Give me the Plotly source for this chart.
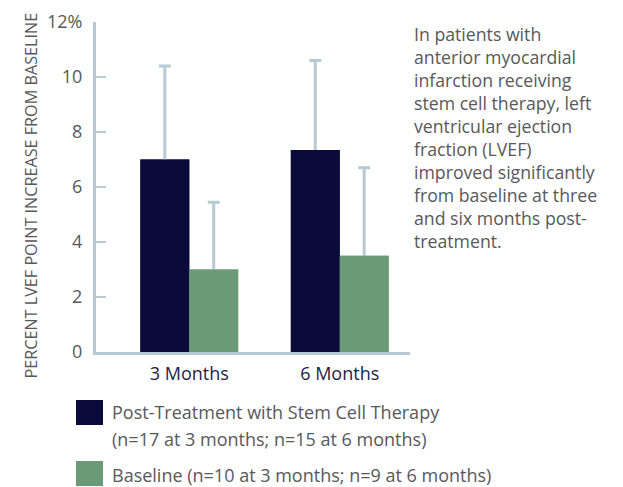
import plotly.graph_objects as go

categories = ["3 Months", "6 Months"]
post_values = [7.0, 7.35]
post_errors = [3.4, 3.25]
base_values = [3.0, 3.5]
base_errors = [2.45, 3.2]
y_tickvals = [0, 2, 4, 6, 8, 10, 12]
y_ticktext = ["0", "2", "4", "6", "8", "10", "12%"]
y_title = "PERCENT LVEF POINT INCREASE FROM BASELINE"
note_lines = [
    "In patients with",
    "anterior myocardial",
    "infarction receiving",
    "stem cell therapy, left",
    "ventricular ejection",
    "fraction (LVEF)",
    "improved significantly",
    "from baseline at three",
    "and six months post-",
    "treatment.",
]
legend_labels = [
    ["Post-Treatment with Stem Cell Therapy", "(n=17 at 3 months; n=15 at 6 months)"],
    ["Baseline (n=10 at 3 months; n=9 at 6 months)"],
]

DARK = "#0b0b3b"
GREEN = "#6a9a77"
AXIS = "#b7c9d1"
GRAY = "#58585a"
FONT = "Open Sans"

OFF = 8  # page body margin
W, H = 623 - OFF, 487 - OFF
# plot area in screen pixels: x 96..410, y 22..352
SL, SR, ST, SB = 96, 410, 22, 352
L, T = SL - OFF, ST - OFF
R, B = W - (SR - OFF), H - (SB - OFF)
PW, PH = SR - SL, SB - ST


def px(x):
    return (x - SL) / PW


def py(y):
    return (SB - y) / PH


BW = 0.325
fig = go.Figure()
# bars carrying error bars (lower part hidden under cover bars)
for vals, errs, color, off in [(post_values, post_errors, DARK, -BW), (base_values, base_errors, GREEN, 0)]:
    fig.add_trace(go.Bar(
        x=categories, y=vals, width=BW, offset=off, marker_color=color, marker_line_width=0,
        error_y=dict(type="data", symmetric=False, array=errs, arrayminus=[0.5] * len(vals),
                     color=AXIS, thickness=3, width=6),
        showlegend=False, hoverinfo="skip"))
for vals, color, off in [(post_values, DARK, -BW), (base_values, GREEN, 0)]:
    fig.add_trace(go.Bar(
        x=categories, y=vals, width=BW, offset=off, marker_color=color, marker_line_width=0,
        showlegend=False))

fig.update_layout(
    width=W, height=H, autosize=False,
    margin=dict(l=L, r=R, t=T, b=B, pad=0, autoexpand=False),
    barmode="overlay",
    plot_bgcolor="white", paper_bgcolor="white",
    font=dict(family=FONT, color=GRAY, size=16),
)
fig.update_xaxes(
    range=[-0.62, 1.467], showline=True, linecolor=AXIS, linewidth=3, ticks="",
    showgrid=False, zeroline=False, tickfont=dict(size=18, color="#1f2147"),
    ticklabelstandoff=3, automargin=False,
)
fig.update_yaxes(
    range=[0, 12], tickvals=y_tickvals, ticktext=y_ticktext, ticks="inside", ticklen=10,
    tickwidth=2, tickcolor=AXIS, showline=True, linecolor=AXIS, linewidth=3,
    showgrid=False, zeroline=False, tickfont=dict(size=18, color=GRAY),
    ticklabelstandoff=7, automargin=False,
)

# y-axis title
fig.add_annotation(text=y_title, xref="paper", yref="paper", x=px(30.5), y=py(196),
                   xanchor="center", yanchor="middle", textangle=-90, showarrow=False,
                   font=dict(size=16.2, color=GRAY))

# side note
fig.add_annotation(text="<br>".join(note_lines), xref="paper", yref="paper",
                   x=px(412), y=py(20.5), xanchor="left", yanchor="top", align="left",
                   showarrow=False, font=dict(size=17.7, color=GRAY))

# manual legend
sw = [(400, 425, DARK), (461, 486, GREEN)]
text_rows = [[412, 439], [475]]
for (y0, y1, c), labels, rows in zip(sw, legend_labels, text_rows):
    fig.add_shape(type="rect", xref="paper", yref="paper", x0=px(76), x1=px(103),
                  y0=py(y1), y1=py(y0), fillcolor=c, line_width=0)
    for lab, yy in zip(labels, rows):
        fig.add_annotation(text=lab, xref="paper", yref="paper", x=px(110), y=py(yy),
                           xanchor="left", yanchor="middle", showarrow=False,
                           font=dict(size=18, color=GRAY))

fig.write_html("out.html")
